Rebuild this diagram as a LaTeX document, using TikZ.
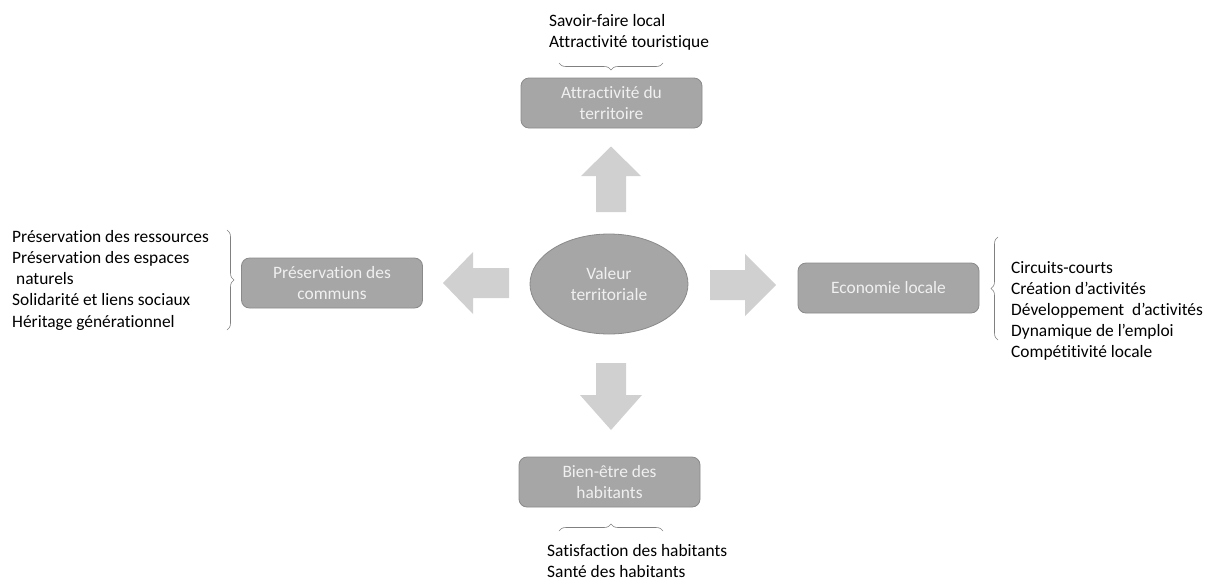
\documentclass[tikz,border=0pt]{standalone}
\usepackage{fontspec}
\setmainfont{Carlito}[Ligatures={NoCommon}]
\usetikzlibrary{decorations.pathreplacing,shapes.geometric}
\definecolor{boxfill}{HTML}{A6A6A6}
\definecolor{boxline}{HTML}{8A8A8A}
\definecolor{boxtext}{HTML}{F0F0F0}
\definecolor{arrowfill}{HTML}{D0D0D0}
\definecolor{bracecol}{HTML}{808080}
\begin{document}
\begin{tikzpicture}[x=1pt,y=-1pt,
  every node/.style={font=\fontsize{17.4}{21.2}\selectfont},
  dimbox/.style={draw=boxline, fill=boxfill, rounded corners=8pt, line width=0.8pt, text=boxtext, align=center, inner sep=0pt, minimum width=181pt, minimum height=50pt},
  bigarrow/.style={fill=arrowfill, draw=none},
  bracket/.style={draw=bracecol, line width=0.6pt, decorate, decoration={brace, amplitude=7pt}},
  itemlist/.style={align=left, anchor=north west, inner sep=0pt, text=black}
]
\useasboundingbox (0,0) rectangle (1208,582);

% central ellipse
\node[draw=boxline, fill=boxfill, line width=0.8pt, ellipse, minimum width=158pt, minimum height=100pt, text=boxtext, align=center, inner sep=0pt] (val) at (609,284) {Valeur\\territoriale};

% boxes
\node[dimbox] (top) at (611.5,103) {Attractivité du\\territoire};
\node[dimbox] (left) at (332,283) {Préservation des\\communs};
\node[dimbox] (right) at (888.5,288) {Economie locale};
\node[dimbox] (bot) at (609.5,482) {Bien-être des\\habitants};

% big arrows
\fill[bigarrow] (596,212) -- (596,176) -- (581,176) -- (611,146.5) -- (641,176) -- (626,176) -- (626,212) -- cycle;
\fill[bigarrow] (509,268) -- (473,268) -- (473,252) -- (443,283) -- (473,314) -- (473,298) -- (509,298) -- cycle;
\fill[bigarrow] (710,270) -- (745,270) -- (745,254) -- (776,285) -- (745,316) -- (745,300) -- (710,300) -- cycle;
\fill[bigarrow] (596,363) -- (596,395) -- (580,395) -- (611,430) -- (642,395) -- (626,395) -- (626,363) -- cycle;

% top texts
\node[itemlist] (ttop) at (549,14) {Savoir-faire local\\Attractivité touristique};
\draw[bracket, decoration={mirror}] (559,63) -- (663,63);

% left texts
\node[itemlist] (tleft) at (12,230) {Préservation des ressources\\Préservation des espaces\\\ naturels\\Solidarité et liens sociaux\\Héritage générationnel};
\draw[bracket] (227,230) -- (227,330);

% right texts
\node[itemlist] (tright) at (1011,261) {Circuits-courts\\Création d’activités\\Développement \ d’activités\\Dynamique de l’emploi\\Compétitivité locale};
\draw[bracket] (998,340) -- (998,237);

% bottom texts
\node[itemlist] (tbot) at (547,544) {Satisfaction des habitants\\Santé des habitants};
\draw[bracket] (559,531) -- (663,531);
\end{tikzpicture}
\end{document}
